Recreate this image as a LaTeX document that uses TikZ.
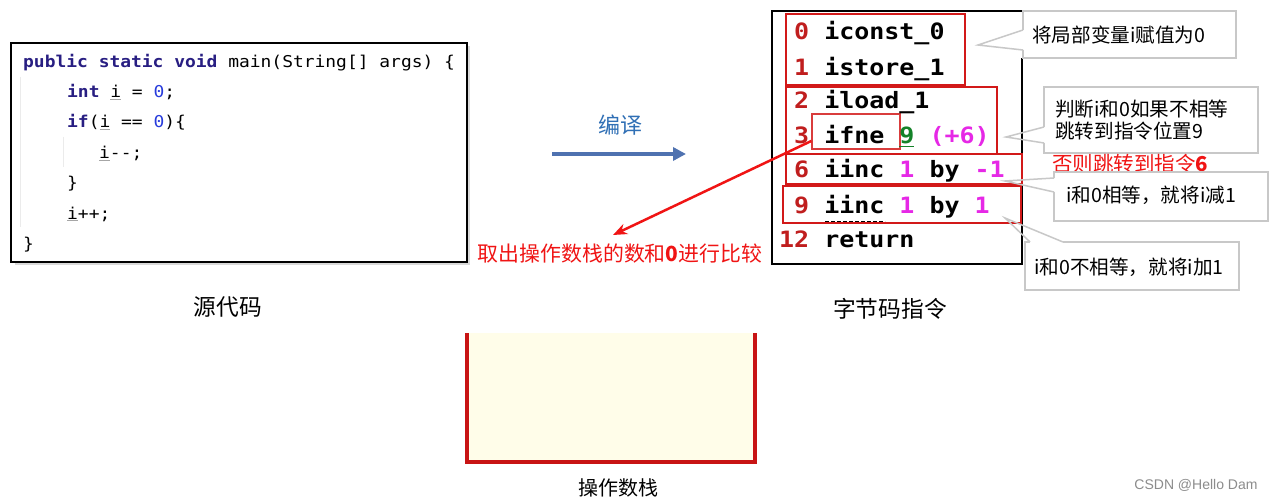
\documentclass[tikz,border=0pt]{standalone}
\usepackage{fontspec}
\setmainfont{Liberation Sans}
\newfontfamily\cjk{Noto Sans CJK SC}
\newfontfamily\srcfont[Ligatures=TeXOff,FakeStretch=1.1]{DejaVu Sans Mono}
\newfontfamily\bcfont[Ligatures=TeXOff,FakeStretch=1.11]{DejaVu Sans Mono}
\usetikzlibrary{arrows.meta}
\definecolor{kwblue}{RGB}{40,30,130}
\definecolor{numblue}{RGB}{40,60,220}
\definecolor{bcred}{RGB}{192,30,30}
\definecolor{bcmag}{RGB}{230,40,230}
\definecolor{bcgreen}{RGB}{20,130,40}
\definecolor{boxred}{RGB}{210,25,25}
\definecolor{callgray}{RGB}{200,200,200}
\definecolor{stackfill}{RGB}{255,253,233}
\definecolor{stackred}{RGB}{200,20,20}
\definecolor{arrowblue}{RGB}{79,114,176}
\definecolor{txtblue}{RGB}{47,111,181}
\definecolor{brightred}{RGB}{240,20,20}
\newcommand\kw[1]{\textbf{\textcolor{kwblue}{#1}}}
\newcommand\nb[1]{\textcolor{numblue}{#1}}
\newcommand\ulv[1]{{\color{gray!70}\underline{\textcolor{black}{#1}}}}
\newcommand\bn[1]{\textcolor{bcred}{#1}}
\newcommand\mg[1]{\textcolor{bcmag}{#1}}
\tikzset{
  src/.style={anchor=base west,inner sep=0pt,font=\srcfont\fontsize{16.3}{18}\selectfont},
  bc/.style={anchor=base west,inner sep=0pt,font=\bcfont\bfseries\fontsize{22.5}{24}\selectfont},
  redbox/.style={draw=boxred,line width=2pt},
  callout/.style={draw=callgray,line width=1.5pt,fill=white},
  calltxt/.style={inner sep=0pt,font=\cjk\fontsize{19.6}{24}\selectfont},
  label/.style={inner sep=0pt,font=\cjk\fontsize{22.7}{26}\selectfont},
  guide/.style={draw=black!8,line width=1pt}
}
\begin{document}
\begin{tikzpicture}[x=1pt,y=-1pt]
\useasboundingbox (0,0) rectangle (1280,500);
\fill[white] (0,0) rectangle (1280,500);

% ---- source code box
\fill[black!15] (15,46) rectangle (470,265);
\draw[line width=2pt,fill=white] (11,43) rectangle (467,262);
\draw[guide] (20,77) -- (20,227);
\draw[guide] (63,137) -- (63,167);
\node[src] (s1) at (23,68) {\kw{public static void} main(String[] args) \{};
\node[src] (s2) at (67,98) {\kw{int} \ulv{i} = \nb{0};};
\node[src] (s3) at (67,128) {\kw{if}(\ulv{i} == \nb{0})\{};
\node[src] (s4) at (99,159) {\ulv{i}--;};
\node[src] (s5) at (67,189) {\}};
\node[src] (s6) at (67,219) {\ulv{i}++;};
\node[src] (s7) at (23,249) {\}};
\node[label] (srclabel) at (228,307) {源代码};

% ---- compile arrow
\node[inner sep=0pt,font=\cjk\fontsize{22}{24}\selectfont,text=txtblue] (compile) at (620,125) {编译};
\coordinate (ca) at (552,154);
\coordinate (cb) at (686,154);
\draw[arrowblue,line width=4pt,-{Triangle[length=13pt,width=13pt]}] (ca) -- (cb);

% ---- bytecode box
\draw[line width=1.8pt] (1022,58) -- (1022,264) -- (772,264) -- (772,11) -- (1022,11);
\draw[redbox] (786,14) rectangle (965,85);
\draw[redbox] (786,87) rectangle (997,154);
\draw[redbox] (786,154) rectangle (1022,184);
\draw[redbox] (783,186) rectangle (1021,223);
\node[draw=boxred!85,line width=1.5pt,minimum width=88pt,minimum height=35pt,inner sep=0pt] (ifnebox) at (856,131.5) {};
\node[bc] (b0) at (794,40) {\bn{0} iconst\_0};
\node[bc] (b1) at (794,76) {\bn{1} istore\_1};
\node[bc] (b2) at (794,109) {\bn{2} iload\_1};
\node[bc] (b3) at (794,144) {\bn{3} ifne {\color{bcgreen}\underline{9}} \mg{(+6)}};
\node[bc] (b6) at (794,178) {\bn{6} iinc \mg{1} by \mg{-1}};
\node[bc] (b9) at (794,213) {\bn{9} iinc \mg{1} by \mg{1}};
\node[bc] (b12) at (779,247) {\bn{12} return};
\draw[black,line width=1pt,dash pattern=on 4pt off 2pt] (825,221) -- (885,221);
\node[label] (bclabel) at (890,309) {字节码指令};

% ---- callouts
\filldraw[callout] (1023,30) -- (1023,11) -- (1236,11) -- (1236,58) -- (1023,58) -- (1023,50);
\draw[callout,fill=none] (1023,30) -- (978,45) -- (1023,50);
\node[calltxt,anchor=west] (c1) at (1032,35) {将局部变量i赋值为0};

\filldraw[callout] (1044,127) -- (1044,87) -- (1258,87) -- (1258,153) -- (1044,153) -- (1044,143);
\draw[callout,fill=none] (1044,127) -- (1006,137) -- (1044,143);
\node[calltxt,anchor=west] (c2a) at (1055,109) {判断i和0如果不相等};
\node[calltxt,anchor=west] (c2b) at (1055,131) {跳转到指令位置9};

\node[inner sep=0pt,anchor=west,font=\cjk\fontsize{20.5}{24}\selectfont,text=brightred] (else) at (1052,164) {否则跳转到指令\textbf{6}};

\filldraw[callout] (1054,178) -- (1054,172) -- (1268,172) -- (1268,221) -- (1054,221) -- (1054,192);
\draw[callout,fill=none] (1054,178) -- (1005,181) -- (1054,192);
\node[calltxt,anchor=west] (c3) at (1066,195) {i和0相等，就将i减1};

\filldraw[callout] (1063,242) -- (1239,242) -- (1239,290) -- (1025,290) -- (1025,242) -- (1030,242);
\draw[callout,fill=none] (1030,242) -- (1005,218) -- (1063,242);
\node[calltxt,anchor=west] (c4) at (1034,267) {i和0不相等，就将i加1};

% ---- red compare arrow
\coordinate (cmptip) at (613,235);
\draw[brightred,line width=2.5pt,-{Stealth[length=14pt,width=11pt]}] (ifnebox.192) -- (cmptip);
\node[inner sep=0pt,font=\cjk\fontsize{20.9}{24}\selectfont,text=brightred] (cmptxt) at (620,254) {取出操作数栈的数和\textbf{0}进行比较};

% ---- operand stack
\fill[stackfill] (467,333) rectangle (755,462);
\draw[stackred,line width=4pt,line join=miter] (467,333) -- (467,462) -- (755,462) -- (755,333);
\node[inner sep=0pt,font=\cjk\fontsize{20}{24}\selectfont] (stacklabel) at (618,488) {操作数栈};

% ---- watermark
\node[inner sep=0pt,font=\fontsize{14}{16}\selectfont,text=black!45] (wm) at (1196,485) {CSDN @Hello Dam};
\end{tikzpicture}
\end{document}
